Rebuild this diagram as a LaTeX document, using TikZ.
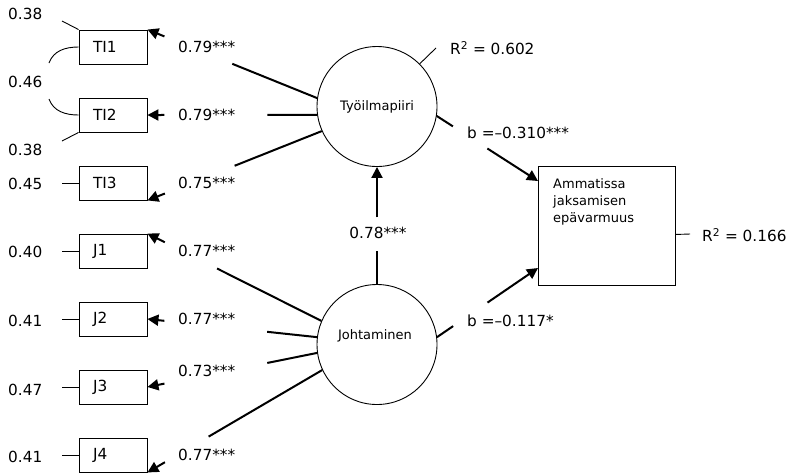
\documentclass[tikz,border=0pt]{standalone}
\usepackage{fontspec}
\setmainfont{DejaVu Sans}
\usetikzlibrary{arrows.meta,calc}
\newcommand\ldg[4]{%
  \draw[pth] (#1) -- ($(#1)!#3!(#2)$);
  \draw[pth,headtip] ($(#1)!#4!(#2)$) -- (#2);
}
\begin{document}
\begin{tikzpicture}[x=1pt,y=-1pt,
  lbl/.style={font=\fontsize{15.3}{18}\selectfont, inner sep=0pt, anchor=west},
  small/.style={font=\fontsize{13}{17}\selectfont, inner sep=0pt},
  obs/.style={draw, line width=0.9pt, minimum height=34pt, text width=40pt, inner xsep=14pt, inner ysep=0pt, align=left, font=\fontsize{15.3}{18}\selectfont},
  lat/.style={draw, circle, line width=0.9pt, minimum size=120pt, inner sep=0pt},
  errline/.style={line width=0.9pt},
  pth/.style={line width=2pt},
  headtip/.style={-{Triangle[length=11pt,width=11pt]}},
]
\useasboundingbox (0,0) rectangle (791,475);

% observed variables
\node[obs] (TI1) at (113,47) {TI1};
\node[obs] (TI2) at (113,115) {TI2};
\node[obs] (TI3) at (113,183) {TI3};
\node[obs] (J1) at (113,251) {J1};
\node[obs] (J2) at (113,319) {J2};
\node[obs] (J3) at (113,387) {J3};
\node[obs] (J4) at (113,455) {J4};

% latent variables
\node[lat, small] (ty) at (377,106.5) {Työilmapiiri};
\node[lat] (jo) at (377,344.5) {};
\node[small] (jot) at (375,336) {Johtaminen};

% outcome
\node[draw, line width=0.9pt, minimum width=137pt, minimum height=119pt, inner sep=0pt, anchor=north west] (amm) at (538,166) {};
\node[small, anchor=north west, align=left] (ammt) at (553,178) {Ammatissa\\jaksamisen\\epävarmuus};

% error labels
\node[lbl] (e1) at (8,14) {0.38};
\node[lbl] (e12) at (8,82) {0.46};
\node[lbl] (e2) at (8,150) {0.38};
\node[lbl] (e3) at (8,183.5) {0.45};
\node[lbl] (e4) at (8,252) {0.40};
\node[lbl] (e5) at (8,320.5) {0.41};
\node[lbl] (e6) at (8,389.5) {0.47};
\node[lbl] (e7) at (8,457) {0.41};

% error connectors
\coordinate (c1) at (62,21);
\coordinate (c2) at (49,63);
\coordinate (c3) at (49,99);
\coordinate (c4) at (62,141);
\coordinate (c5) at (62,183);
\coordinate (c6) at (62,251);
\coordinate (c7) at (62,319);
\coordinate (c8) at (62,387);
\coordinate (c9) at (62,455);
\draw[errline] (TI1.north west) -- (c1);
\draw[errline] (TI1.west) to[out=180,in=70] (c2);
\draw[errline] (TI2.west) to[out=180,in=-70] (c3);
\draw[errline] (TI2.south west) -- (c4);
\draw[errline] (TI3.west) -- (c5);
\draw[errline] (J1.west) -- (c6);
\draw[errline] (J2.west) -- (c7);
\draw[errline] (J3.west) -- (c8);
\draw[errline] (J4.west) -- (c9);

% loadings
\ldg{ty.172}{TI1.north east}{0.5}{0.9}
\ldg{ty.188}{TI2.east}{0.294}{0.9}
\ldg{ty.204}{TI3.south east}{0.5}{0.9}
\ldg{jo.157}{J1.north east}{0.6}{0.9}
\ldg{jo.173}{J2.east}{0.294}{0.9}
\ldg{jo.188}{J3.east}{0.294}{0.9}
\ldg{jo.205}{J4.south east}{0.65}{0.9}

\node[lbl] (l1) at (178,47) {0.79***};
\node[lbl] (l2) at (178,115) {0.79***};
\node[lbl] (l3) at (178,183) {0.75***};
\node[lbl] (l4) at (178,251) {0.77***};
\node[lbl] (l5) at (178,319) {0.77***};
\node[lbl] (l6) at (178,371) {0.73***};
\node[lbl] (l7) at (178,455) {0.77***};

% structural paths
\coordinate (a1) at ($(amm.north west)+(0,15)$);
\coordinate (a2) at ($(amm.north west)+(0,102)$);
\ldg{jo.north}{ty.south}{0.28}{0.57}
\ldg{ty.-9}{a1}{0.16}{0.5}
\ldg{jo.7}{a2}{0.16}{0.5}
\node[lbl, anchor=center] (l78) at (378,233) {0.78***};
\node[lbl] (b1) at (467,133) {b =–0.310***};
\node[lbl] (b2) at (467,321) {b =–0.117*};

% R squared
\coordinate (rc1) at (436,48);
\draw[errline] (ty.45) -- (rc1);
\node[lbl] (r1) at (450,48) {R\textsuperscript{2} = 0.602};
\coordinate (rc2a) at ($(amm.east)+(0,8.5)$);
\coordinate (rc2) at (690,234);
\draw[errline] (rc2a) -- (rc2);
\node[lbl] (r2) at (702,235) {R\textsuperscript{2} = 0.166};
\end{tikzpicture}
\end{document}
